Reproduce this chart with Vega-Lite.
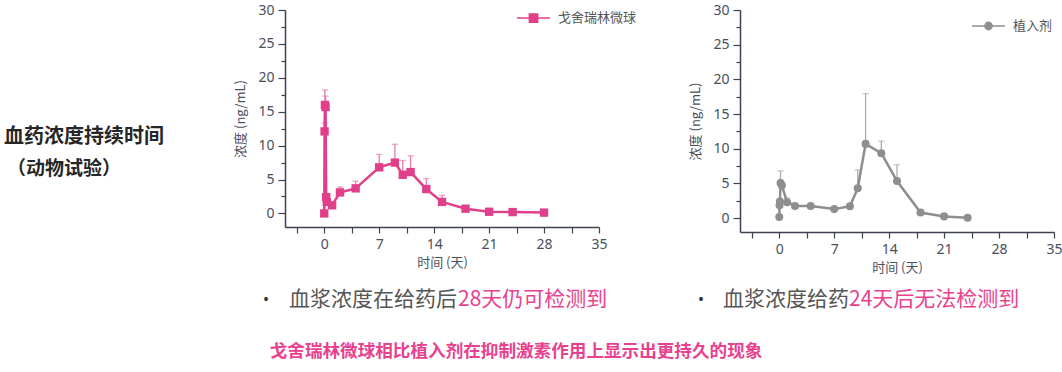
{
  "$schema": "https://vega.github.io/schema/vega-lite/v6.json",
  "padding": {"left": 3, "top": 0, "right": 0, "bottom": 0},
  "background": "white",
  "config": {
    "view": {"stroke": null},
    "axis": {
      "grid": false,
      "domainColor": "#3d4250", "domainWidth": 1.5,
      "tickColor": "#3d4250", "tickWidth": 1.2,
      "labelFont": "Noto Sans", "labelFontSize": 14, "labelColor": "#4a4f5c",
      "labelOverlap": false, "labelFlush": false,
      "titleFont": "Noto Sans CJK SC", "titleFontSize": 13, "titleColor": "#4a4f5c", "titleFontWeight": "normal"
    },
    "legend": {
      "orient": "none", "title": null, "padding": 0,
      "labelFont": "Noto Sans CJK SC", "labelFontSize": 13, "labelColor": "#555555",
      "labelOffset": 7, "symbolSize": 1089
    }
  },
  "datasets": {
    "gos": [
      {"t": 0, "v": 0, "hi": null, "s": "戈舍瑞林微球"},
      {"t": 0.042, "v": 12.1, "hi": 13.3, "s": "戈舍瑞林微球"},
      {"t": 0.083, "v": 16.0, "hi": 18.2, "s": "戈舍瑞林微球"},
      {"t": 0.167, "v": 15.7, "hi": 17.3, "s": "戈舍瑞林微球"},
      {"t": 0.25, "v": 2.4, "hi": null, "s": "戈舍瑞林微球"},
      {"t": 0.33, "v": 1.7, "hi": null, "s": "戈舍瑞林微球"},
      {"t": 1, "v": 1.2, "hi": null, "s": "戈舍瑞林微球"},
      {"t": 2, "v": 3.1, "hi": 3.9, "s": "戈舍瑞林微球"},
      {"t": 4, "v": 3.7, "hi": 4.75, "s": "戈舍瑞林微球"},
      {"t": 7, "v": 6.8, "hi": 8.7, "s": "戈舍瑞林微球"},
      {"t": 9, "v": 7.5, "hi": 10.2, "s": "戈舍瑞林微球"},
      {"t": 10, "v": 5.7, "hi": 7.8, "s": "戈舍瑞林微球"},
      {"t": 11, "v": 6.1, "hi": 8.5, "s": "戈舍瑞林微球"},
      {"t": 13, "v": 3.6, "hi": 5.15, "s": "戈舍瑞林微球"},
      {"t": 15, "v": 1.7, "hi": 2.65, "s": "戈舍瑞林微球"},
      {"t": 18, "v": 0.7, "hi": 0.95, "s": "戈舍瑞林微球"},
      {"t": 21, "v": 0.25, "hi": null, "s": "戈舍瑞林微球"},
      {"t": 24, "v": 0.2, "hi": null, "s": "戈舍瑞林微球"},
      {"t": 28, "v": 0.12, "hi": null, "s": "戈舍瑞林微球"}
    ],
    "imp": [
      {"t": 0, "v": 0.15, "hi": null, "s": "植入剂"},
      {"t": 0.042, "v": 1.85, "hi": null, "s": "植入剂"},
      {"t": 0.083, "v": 2.4, "hi": null, "s": "植入剂"},
      {"t": 0.167, "v": 5.05, "hi": 6.8, "s": "植入剂"},
      {"t": 0.33, "v": 4.7, "hi": null, "s": "植入剂"},
      {"t": 1, "v": 2.3, "hi": 2.9, "s": "植入剂"},
      {"t": 2, "v": 1.75, "hi": null, "s": "植入剂"},
      {"t": 4, "v": 1.75, "hi": null, "s": "植入剂"},
      {"t": 7, "v": 1.3, "hi": null, "s": "植入剂"},
      {"t": 9, "v": 1.7, "hi": 2.1, "s": "植入剂"},
      {"t": 10, "v": 4.3, "hi": 6.95, "s": "植入剂"},
      {"t": 11, "v": 10.7, "hi": 17.95, "s": "植入剂"},
      {"t": 13, "v": 9.35, "hi": 11.1, "s": "植入剂"},
      {"t": 15, "v": 5.35, "hi": 7.7, "s": "植入剂"},
      {"t": 18, "v": 0.8, "hi": 1.2, "s": "植入剂"},
      {"t": 21, "v": 0.25, "hi": null, "s": "植入剂"},
      {"t": 24, "v": 0.05, "hi": null, "s": "植入剂"}
    ]
  },
  "bounds": "flush",
  "spacing": 141,
  "resolve": {"scale": {"color": "independent"}, "legend": {"color": "independent"}},
  "hconcat": [
    {
      "width": 314,
      "height": 217,
      "layer": [
        {
          "data": {"name": "gos"},
          "transform": [{"filter": "isValid(datum.hi)"}],
          "mark": {"type": "rule", "color": "#E77AAE", "strokeWidth": 1.3},
          "encoding": {
            "x": {"field": "t", "type": "quantitative", "title": "时间 (天)", "scale": {"domain": [-5, 35], "nice": false, "zero": false},
                  "axis": {"values": [-3.5, 0, 3.5, 7, 10.5, 14, 17.5, 21, 24.5, 28, 31.5, 35], "labelExpr": "datum.value % 7 === 0 ? datum.label : ''", "tickSize": 6, "labelPadding": 4, "titlePadding": 5}},
            "y": {"field": "v", "type": "quantitative", "title": "浓度 (ng/mL)", "scale": {"domain": [-2, 30], "nice": false, "zero": false},
                  "axis": {"values": [0, 2.5, 5, 7.5, 10, 12.5, 15, 17.5, 20, 22.5, 25, 27.5, 30], "labelExpr": "datum.value % 5 === 0 ? datum.label : ''", "tickSize": {"condition": {"test": "datum.value % 5 === 0", "value": 7}, "value": 4}, "labelPadding": 4, "titlePadding": 10}},
            "y2": {"field": "hi"}
          }
        },
        {
          "data": {"name": "gos"},
          "transform": [{"filter": "isValid(datum.hi)"}],
          "mark": {"type": "tick", "orient": "horizontal", "size": 6, "thickness": 1.3, "color": "#E77AAE"},
          "encoding": {
            "x": {"field": "t", "type": "quantitative", "title": "时间 (天)",
                  "axis": {"values": [-3.5, 0, 3.5, 7, 10.5, 14, 17.5, 21, 24.5, 28, 31.5, 35], "labelExpr": "datum.value % 7 === 0 ? datum.label : ''", "tickSize": 6, "labelPadding": 4, "titlePadding": 5}},
            "y": {"field": "hi", "type": "quantitative", "title": "浓度 (ng/mL)",
                  "axis": {"values": [0, 2.5, 5, 7.5, 10, 12.5, 15, 17.5, 20, 22.5, 25, 27.5, 30], "labelExpr": "datum.value % 5 === 0 ? datum.label : ''", "tickSize": {"condition": {"test": "datum.value % 5 === 0", "value": 7}, "value": 4}, "labelPadding": 4, "titlePadding": 10}}
          }
        },
        {
          "data": {"name": "gos"},
          "mark": {"type": "line", "strokeWidth": 2.5},
          "encoding": {
            "x": {"field": "t", "type": "quantitative", "title": "时间 (天)",
                  "axis": {"values": [-3.5, 0, 3.5, 7, 10.5, 14, 17.5, 21, 24.5, 28, 31.5, 35], "labelExpr": "datum.value % 7 === 0 ? datum.label : ''", "tickSize": 6, "labelPadding": 4, "titlePadding": 5}},
            "y": {"field": "v", "type": "quantitative", "title": "浓度 (ng/mL)",
                  "axis": {"values": [0, 2.5, 5, 7.5, 10, 12.5, 15, 17.5, 20, 22.5, 25, 27.5, 30], "labelExpr": "datum.value % 5 === 0 ? datum.label : ''", "tickSize": {"condition": {"test": "datum.value % 5 === 0", "value": 7}, "value": 4}, "labelPadding": 4, "titlePadding": 10}},
            "color": {"field": "s", "type": "nominal",
                      "scale": {"range": ["#E0408A"]},
                      "legend": {"legendX": 231, "legendY": -9.5,
                                 "symbolType": "M-1,0H1M-0.25,-0.25H0.25V0.25H-0.25Z",
                                 "encode": {"symbols": {"update": {"fill": {"value": "#E0408A"}, "stroke": {"value": "#E0408A"}, "strokeWidth": {"value": 1.5}}}}}}
          }
        },
        {
          "data": {"name": "gos"},
          "mark": {"type": "point", "shape": "square", "filled": true, "size": 70, "opacity": 1},
          "encoding": {
            "x": {"field": "t", "type": "quantitative", "title": "时间 (天)",
                  "axis": {"values": [-3.5, 0, 3.5, 7, 10.5, 14, 17.5, 21, 24.5, 28, 31.5, 35], "labelExpr": "datum.value % 7 === 0 ? datum.label : ''", "tickSize": 6, "labelPadding": 4, "titlePadding": 5}},
            "y": {"field": "v", "type": "quantitative", "title": "浓度 (ng/mL)",
                  "axis": {"values": [0, 2.5, 5, 7.5, 10, 12.5, 15, 17.5, 20, 22.5, 25, 27.5, 30], "labelExpr": "datum.value % 5 === 0 ? datum.label : ''", "tickSize": {"condition": {"test": "datum.value % 5 === 0", "value": 7}, "value": 4}, "labelPadding": 4, "titlePadding": 10}},
            "color": {"field": "s", "type": "nominal"}
          }
        },
        {
          "data": {"values": [
            {"txt": "血药浓度持续时间", "k": "h1"},
            {"txt": "（动物试验）", "k": "h2"},
            {"txt": "•", "k": "b"},
            {"txt": "血浆浓度在给药后", "k": "g"},
            {"txt": "28天仍可检测到", "k": "p"},
            {"txt": "戈舍瑞林微球相比植入剂在抑制激素作用上显示出更持久的现象", "k": "c"}
          ]},
          "layer": [
            {
              "transform": [{"filter": "datum.k === 'h1'"}],
              "mark": {"type": "text", "align": "left", "baseline": "middle", "font": "Noto Sans CJK SC", "fontSize": 20, "fontWeight": "bold", "color": "#262626"},
              "encoding": {"x": {"datum": -40.8, "type": "quantitative"}, "y": {"datum": 11.27, "type": "quantitative"}, "text": {"field": "txt", "type": "nominal"}}
            },
            {
              "transform": [{"filter": "datum.k === 'h2'"}],
              "mark": {"type": "text", "align": "left", "baseline": "middle", "font": "Noto Sans CJK SC", "fontSize": 19, "fontWeight": "bold", "color": "#262626"},
              "encoding": {"x": {"datum": -40.4, "type": "quantitative"}, "y": {"datum": 6.55, "type": "quantitative"}, "text": {"field": "txt", "type": "nominal"}}
            },
            {
              "transform": [{"filter": "datum.k === 'b'"}],
              "mark": {"type": "text", "align": "center", "baseline": "middle", "font": "Noto Sans", "fontSize": 16, "color": "#333333"},
              "encoding": {"x": {"datum": -7.42, "type": "quantitative"}, "y": {"datum": -12.77, "type": "quantitative"}, "text": {"field": "txt", "type": "nominal"}}
            },
            {
              "transform": [{"filter": "datum.k === 'g'"}],
              "mark": {"type": "text", "align": "left", "baseline": "middle", "font": "Noto Sans CJK SC", "fontSize": 21, "color": "#555555"},
              "encoding": {"x": {"datum": -4.49, "type": "quantitative"}, "y": {"datum": -12.77, "type": "quantitative"}, "text": {"field": "txt", "type": "nominal"}}
            },
            {
              "transform": [{"filter": "datum.k === 'p'"}],
              "mark": {"type": "text", "align": "left", "baseline": "middle", "font": "Noto Sans CJK SC", "fontSize": 21, "color": "#E8418E"},
              "encoding": {"x": {"datum": 17.04, "type": "quantitative"}, "y": {"datum": -12.77, "type": "quantitative"}, "text": {"field": "txt", "type": "nominal"}}
            },
            {
              "transform": [{"filter": "datum.k === 'c'"}],
              "mark": {"type": "text", "align": "center", "baseline": "middle", "font": "Noto Sans CJK SC", "fontSize": 17.6, "fontWeight": "bold", "color": "#E8418E"},
              "encoding": {"x": {"datum": 24.43, "type": "quantitative"}, "y": {"datum": -20.44, "type": "quantitative"}, "text": {"field": "txt", "type": "nominal"}}
            }
          ],
          "encoding": {
            "x": {"datum": 0, "type": "quantitative", "title": "时间 (天)",
                  "axis": {"values": [-3.5, 0, 3.5, 7, 10.5, 14, 17.5, 21, 24.5, 28, 31.5, 35], "labelExpr": "datum.value % 7 === 0 ? datum.label : ''", "tickSize": 6, "labelPadding": 4, "titlePadding": 5}},
            "y": {"datum": 0, "type": "quantitative", "title": "浓度 (ng/mL)",
                  "axis": {"values": [0, 2.5, 5, 7.5, 10, 12.5, 15, 17.5, 20, 22.5, 25, 27.5, 30], "labelExpr": "datum.value % 5 === 0 ? datum.label : ''", "tickSize": {"condition": {"test": "datum.value % 5 === 0", "value": 7}, "value": 4}, "labelPadding": 4, "titlePadding": 10}}
          }
        }
      ]
    },
    {
      "width": 314,
      "height": 222,
      "layer": [
        {
          "data": {"name": "imp"},
          "transform": [{"filter": "isValid(datum.hi)"}],
          "mark": {"type": "rule", "color": "#ADADAD", "strokeWidth": 1.3},
          "encoding": {
            "x": {"field": "t", "type": "quantitative", "title": "时间 (天)", "scale": {"domain": [-5, 35], "nice": false, "zero": false},
                  "axis": {"values": [-3.5, 0, 3.5, 7, 10.5, 14, 17.5, 21, 24.5, 28, 31.5, 35], "labelExpr": "datum.value % 7 === 0 ? datum.label : ''", "tickSize": 6, "labelPadding": 4, "titlePadding": 5}},
            "y": {"field": "v", "type": "quantitative", "title": "浓度 (ng/mL)", "scale": {"domain": [-2, 30], "nice": false, "zero": false},
                  "axis": {"values": [0, 2.5, 5, 7.5, 10, 12.5, 15, 17.5, 20, 22.5, 25, 27.5, 30], "labelExpr": "datum.value % 5 === 0 ? datum.label : ''", "tickSize": {"condition": {"test": "datum.value % 5 === 0", "value": 7}, "value": 4}, "labelPadding": 4, "titlePadding": 10}},
            "y2": {"field": "hi"}
          }
        },
        {
          "data": {"name": "imp"},
          "transform": [{"filter": "isValid(datum.hi)"}],
          "mark": {"type": "tick", "orient": "horizontal", "size": 6, "thickness": 1.3, "color": "#ADADAD"},
          "encoding": {
            "x": {"field": "t", "type": "quantitative", "title": "时间 (天)",
                  "axis": {"values": [-3.5, 0, 3.5, 7, 10.5, 14, 17.5, 21, 24.5, 28, 31.5, 35], "labelExpr": "datum.value % 7 === 0 ? datum.label : ''", "tickSize": 6, "labelPadding": 4, "titlePadding": 5}},
            "y": {"field": "hi", "type": "quantitative", "title": "浓度 (ng/mL)",
                  "axis": {"values": [0, 2.5, 5, 7.5, 10, 12.5, 15, 17.5, 20, 22.5, 25, 27.5, 30], "labelExpr": "datum.value % 5 === 0 ? datum.label : ''", "tickSize": {"condition": {"test": "datum.value % 5 === 0", "value": 7}, "value": 4}, "labelPadding": 4, "titlePadding": 10}}
          }
        },
        {
          "data": {"name": "imp"},
          "mark": {"type": "line", "strokeWidth": 2.5},
          "encoding": {
            "x": {"field": "t", "type": "quantitative", "title": "时间 (天)",
                  "axis": {"values": [-3.5, 0, 3.5, 7, 10.5, 14, 17.5, 21, 24.5, 28, 31.5, 35], "labelExpr": "datum.value % 7 === 0 ? datum.label : ''", "tickSize": 6, "labelPadding": 4, "titlePadding": 5}},
            "y": {"field": "v", "type": "quantitative", "title": "浓度 (ng/mL)",
                  "axis": {"values": [0, 2.5, 5, 7.5, 10, 12.5, 15, 17.5, 20, 22.5, 25, 27.5, 30], "labelExpr": "datum.value % 5 === 0 ? datum.label : ''", "tickSize": {"condition": {"test": "datum.value % 5 === 0", "value": 7}, "value": 4}, "labelPadding": 4, "titlePadding": 10}},
            "color": {"field": "s", "type": "nominal",
                      "scale": {"range": ["#8E8E8E"]},
                      "legend": {"legendX": 231, "legendY": -1.5,
                                 "symbolType": "M-1,0H1M-0.22,0A0.22,0.22,0,1,0,0.22,0A0.22,0.22,0,1,0,-0.22,0Z",
                                 "encode": {"symbols": {"update": {"fill": {"value": "#8E8E8E"}, "stroke": {"value": "#8E8E8E"}, "strokeWidth": {"value": 1.5}}}}}}
          }
        },
        {
          "data": {"name": "imp"},
          "mark": {"type": "circle", "size": 65, "opacity": 1},
          "encoding": {
            "x": {"field": "t", "type": "quantitative", "title": "时间 (天)",
                  "axis": {"values": [-3.5, 0, 3.5, 7, 10.5, 14, 17.5, 21, 24.5, 28, 31.5, 35], "labelExpr": "datum.value % 7 === 0 ? datum.label : ''", "tickSize": 6, "labelPadding": 4, "titlePadding": 5}},
            "y": {"field": "v", "type": "quantitative", "title": "浓度 (ng/mL)",
                  "axis": {"values": [0, 2.5, 5, 7.5, 10, 12.5, 15, 17.5, 20, 22.5, 25, 27.5, 30], "labelExpr": "datum.value % 5 === 0 ? datum.label : ''", "tickSize": {"condition": {"test": "datum.value % 5 === 0", "value": 7}, "value": 4}, "labelPadding": 4, "titlePadding": 10}},
            "color": {"field": "s", "type": "nominal"}
          }
        },
        {
          "data": {"values": [
            {"txt": "•", "k": "b"},
            {"txt": "血浆浓度给药", "k": "g"},
            {"txt": "24天后无法检测到", "k": "p"}
          ]},
          "layer": [
            {
              "transform": [{"filter": "datum.k === 'b'"}],
              "mark": {"type": "text", "align": "center", "baseline": "middle", "font": "Noto Sans", "fontSize": 16, "color": "#333333"},
              "encoding": {"x": {"datum": -9.97, "type": "quantitative"}, "y": {"datum": -11.8, "type": "quantitative"}, "text": {"field": "txt", "type": "nominal"}}
            },
            {
              "transform": [{"filter": "datum.k === 'g'"}],
              "mark": {"type": "text", "align": "left", "baseline": "middle", "font": "Noto Sans CJK SC", "fontSize": 21, "color": "#555555"},
              "encoding": {"x": {"datum": -7.17, "type": "quantitative"}, "y": {"datum": -11.8, "type": "quantitative"}, "text": {"field": "txt", "type": "nominal"}}
            },
            {
              "transform": [{"filter": "datum.k === 'p'"}],
              "mark": {"type": "text", "align": "left", "baseline": "middle", "font": "Noto Sans CJK SC", "fontSize": 21, "color": "#E8418E"},
              "encoding": {"x": {"datum": 8.89, "type": "quantitative"}, "y": {"datum": -11.8, "type": "quantitative"}, "text": {"field": "txt", "type": "nominal"}}
            }
          ],
          "encoding": {
            "x": {"datum": 0, "type": "quantitative", "title": "时间 (天)",
                  "axis": {"values": [-3.5, 0, 3.5, 7, 10.5, 14, 17.5, 21, 24.5, 28, 31.5, 35], "labelExpr": "datum.value % 7 === 0 ? datum.label : ''", "tickSize": 6, "labelPadding": 4, "titlePadding": 5}},
            "y": {"datum": 0, "type": "quantitative", "title": "浓度 (ng/mL)",
                  "axis": {"values": [0, 2.5, 5, 7.5, 10, 12.5, 15, 17.5, 20, 22.5, 25, 27.5, 30], "labelExpr": "datum.value % 5 === 0 ? datum.label : ''", "tickSize": {"condition": {"test": "datum.value % 5 === 0", "value": 7}, "value": 4}, "labelPadding": 4, "titlePadding": 10}}
          }
        }
      ]
    }
  ]
}
